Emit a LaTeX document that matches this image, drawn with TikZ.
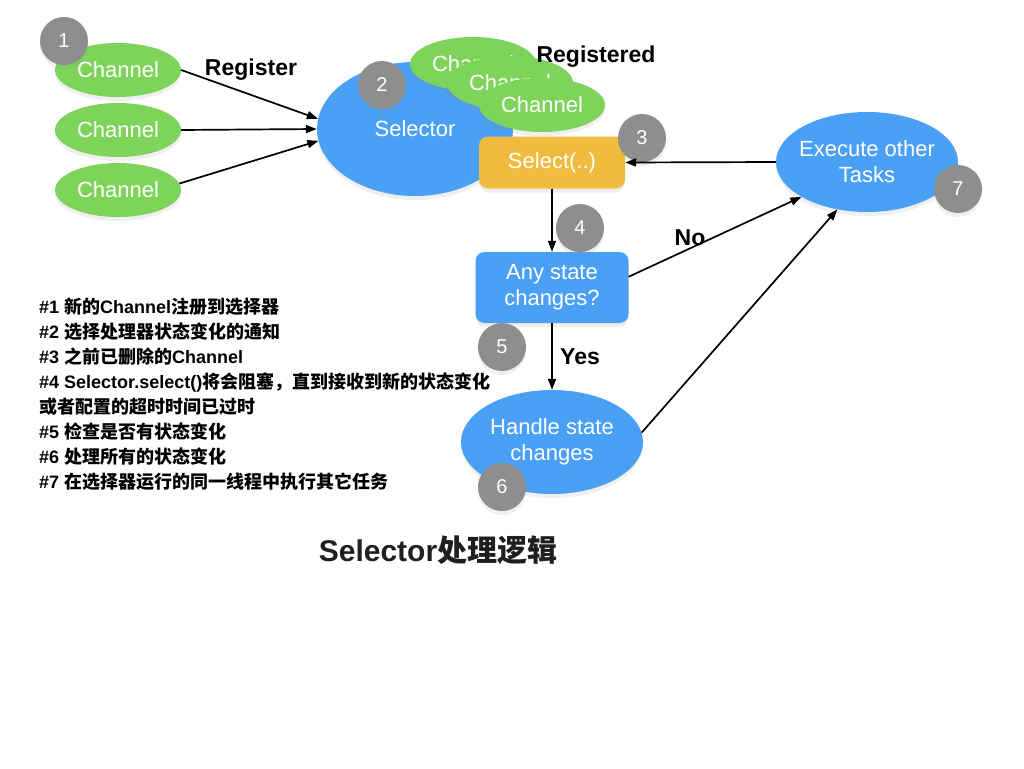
\documentclass[tikz,border=0pt]{standalone}
\usepackage{fontspec}
\setmainfont{Liberation Sans}
\newfontfamily\cjk{Noto Sans CJK SC}
\newcommand\zh[1]{{\cjk #1}}
\usetikzlibrary{shapes.geometric,arrows.meta,shadows}
\definecolor{chgreen}{RGB}{126,211,90}
\definecolor{selblue}{RGB}{74,160,245}
\definecolor{selorange}{RGB}{240,188,64}
\definecolor{badgegray}{RGB}{142,142,142}
\begin{document}
\begin{tikzpicture}[x=1pt,y=-1pt,
  softshadow/.style={drop shadow={opacity=0.12,shadow xshift=0pt,shadow yshift=-4pt}},
  chan/.style={ellipse,fill=chgreen,draw=none,minimum width=126pt,minimum height=54pt,inner sep=0pt,text=white,font=\fontsize{22}{26}\selectfont,softshadow},
  blueell/.style={ellipse,fill=selblue,draw=none,inner sep=0pt,text=white,font=\fontsize{22}{26}\selectfont,align=center,softshadow},
  bluebox/.style={rectangle,rounded corners=9pt,fill=selblue,draw=none,text=white,font=\fontsize{22}{26}\selectfont,align=center,softshadow},
  badge/.style={circle,fill=badgegray,draw=none,minimum size=48pt,inner sep=0pt,text=white,font=\fontsize{20}{24}\selectfont,softshadow},
  lbl/.style={font=\bfseries\fontsize{23}{26}\selectfont,inner sep=0pt},
  note/.style={anchor=base west,inner sep=0pt,font=\bfseries\fontsize{18}{20}\selectfont},
  arr/.style={-{Triangle[length=11pt,width=8pt]},line width=1.7pt,black}
]
\useasboundingbox[fill=white] (0,0) rectangle (1024,768);

% left channels
\node[chan] (c1) at (118,70) {Channel};
\node[chan] (c2) at (118,130) {Channel};
\node[chan] (c3) at (118,190) {Channel};
\node[badge] (b1) at (64,41) {1};

% selector
\node[blueell,minimum width=196pt,minimum height=134pt] (sel) at (415,129) {Selector};
\node[badge] (b2) at (382,85) {2};

% registered channels
\node[chan] (r1) at (473,64) {Channel};
\node[chan] (r2) at (510,83) {Channel};
\node[chan] (r3) at (542,105) {Channel};
\node[lbl] (regd) at (596,57) {Registered};

% select box
\node[rectangle,rounded corners=9pt,fill=selorange,draw=none,text=white,font=\fontsize{22}{26}\selectfont,minimum width=146pt,minimum height=52pt,inner sep=0pt,softshadow] (sbox) at (552,162.5) {Select(..)};
\node[badge] (b3) at (642,138) {3};

% execute other tasks
\node[blueell,minimum width=182pt,minimum height=100pt] (exe) at (867,162) {\makebox[110pt]{Execute other}\\Tasks};
\node[badge] (b7) at (958,189) {7};

% any state changes
\node[bluebox,minimum width=153pt,minimum height=71pt,inner sep=0pt] (any) at (552,287.5) {Any state\\changes?};
\node[badge] (b4) at (580,228) {4};
\node[badge] (b5) at (502,347) {5};

% handle state changes
\node[blueell,minimum width=182pt,minimum height=104pt] (hdl) at (552,442) {\makebox[110pt]{Handle state}\\changes};
\node[badge] (b6) at (502,487) {6};

% labels
\node[lbl] (reg) at (251,70) {Register};
\node[lbl] (no) at (690,238) {No};
\node[lbl] (yes) at (580,357) {Yes};

% arrows
\draw[arr] (c1.east) -- (sel.174);
\draw[arr] (c2.east) -- (sel.180);
\draw[arr] (c3.6) -- (sel.187);
\draw[arr] (exe.west) -- (sbox.east);
\draw[arr] (sbox.south) -- (any.north);
\draw[arr] (any.south) -- (hdl.north);
\draw[arr] (any.8) -- (exe.208);
\draw[arr] (hdl.6) -- (exe.238);

% notes
\node[note] (n1) at (39,313) {\#1 \zh{新的}Channel\zh{注册到选择器}};
\node[note] (n2) at (39,338) {\#2 \zh{选择处理器状态变化的通知}};
\node[note] (n3) at (39,363) {\#3 \zh{之前已删除的}Channel};
\node[note] (n4) at (39,388) {\#4 Selector.select()\zh{将会阻塞，直到接收到新的状态变化}};
\node[note] (n5) at (39,413) {\zh{或者配置的超时时间已过时}};
\node[note] (n6) at (39,438) {\#5 \zh{检查是否有状态变化}};
\node[note] (n7) at (39,463) {\#6 \zh{处理所有的状态变化}};
\node[note] (n8) at (39,488) {\#7 \zh{在选择器运行的同一线程中执行其它任务}};

% title
\node[font=\bfseries\fontsize{30}{34}\selectfont,text=black!88,inner sep=0pt] (title) at (438,550) {Selector\zh{处理逻辑}};
\end{tikzpicture}
\end{document}
